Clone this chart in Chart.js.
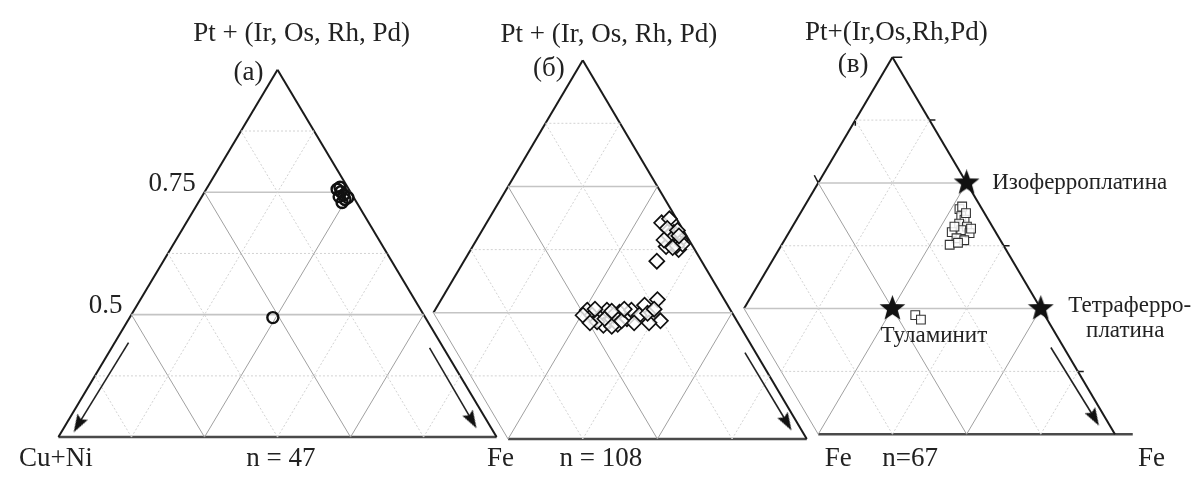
<!DOCTYPE html>
<html>
<head>
<meta charset="utf-8">
<title>Ternary diagrams Pt-Fe-(Cu+Ni)</title>
<script src="https://cdn.jsdelivr.net/npm/chart.js@4.4.0/dist/chart.umd.min.js"></script>
<style>
    html, body { margin: 0; padding: 0; background: #fff; }
    #wrap { width: 1198px; height: 479px; }
</style>
</head>
<body>
<div id="wrap"><canvas id="chart" width="1198" height="479"></canvas></div>
<script>
// ── Data (compositions, fractions) ───────────────────────────────
// Pt = Pt+(Ir,Os,Rh,Pd), Fe = Fe; third apex (Cu+Ni) is the remainder.
// Triangles are truncated: the base corresponds to Pt = 0.25.
var aPt = [0.756, 0.751, 0.745, 0.741, 0.735, 0.729, 0.739, 0.760, 0.494];
var aFe = [0.224, 0.233, 0.241, 0.235, 0.248, 0.246, 0.251, 0.227, 0.245];

var bPt = [0.678, 0.686, 0.659, 0.644, 0.638, 0.625, 0.631, 0.602, 0.648, 0.652, 0.633, 0.636,
           0.667, 0.663, 0.629, 0.644, 0.652,
           0.505, 0.495, 0.492, 0.505, 0.484, 0.501, 0.488, 0.477, 0.505, 0.495, 0.515, 0.526,
           0.484, 0.480, 0.475, 0.482, 0.495, 0.480,
           0.495, 0.507, 0.488, 0.503, 0.484, 0.507, 0.480, 0.473, 0.499, 0.507];
var bFe = [0.293, 0.302, 0.323, 0.342, 0.330, 0.348, 0.324, 0.323, 0.330, 0.318, 0.341, 0.349,
           0.308, 0.327, 0.336, 0.314, 0.335,
           0.255, 0.268, 0.283, 0.288, 0.303, 0.311, 0.330, 0.320, 0.329, 0.347, 0.346, 0.362,
           0.388, 0.371, 0.297, 0.283, 0.304, 0.346,
           0.253, 0.267, 0.293, 0.297, 0.323, 0.316, 0.272, 0.312, 0.359, 0.366];

var cPt = [0.698, 0.684, 0.677, 0.669, 0.663, 0.656, 0.650, 0.652, 0.640, 0.627, 0.636,
           0.703, 0.663, 0.690, 0.631, 0.659, 0.487, 0.478];
var cFe = [0.264, 0.274, 0.283, 0.278, 0.294, 0.288, 0.305, 0.274, 0.288, 0.283, 0.303,
           0.266, 0.273, 0.279, 0.295, 0.303, 0.295, 0.309];

var mineralNames = ['Изоферроплатина', 'Тетраферро-\nплатина', 'Туламинит'];
var mineralPt = [0.75, 0.5, 0.5];
var mineralFe = [0.25, 0.5, 0.25];

var tickValues = [0.75, 0.5];
var tickLabels = ['0.75', '0.5'];

// ── Layout (chart units = canvas px) ─────────────────────────────
var panels = [
    { left: 50,  bottom: 445, w: 445, h: 382, cut: false },
    { left: 355, bottom: 447, w: 455, h: 394, cut: true },
    { left: 671, bottom: 442, w: 452, h: 392, cut: true }
];
var PT_BASE = 0.25;
var CUT_B = 2 / 3;   // lower-left corner hidden behind the previous panel

// arrows along the edges: [panel, startXc, startH, endXc, endH, rotation]
var arrows = [
    [0, 0.160, 0.257, 0.045, 0.034, 210],
    [0, 0.847, 0.243, 0.944, 0.045, 150],
    [1, 0.862, 0.228, 0.956, 0.043, 150],
    [2, 0.856, 0.230, 0.954, 0.043, 150]
];

var FONT = "'Liberation Serif', 'DejaVu Serif', serif";
var texts = [
    { t: 'Pt + (Ir, Os, Rh, Pd)', x: 297, y: 26, align: 'center', size: 27 },
    { t: '(а)', x: 243, y: 66, align: 'center', size: 27 },
    { t: 'Pt + (Ir, Os, Rh, Pd)', x: 609, y: 27, align: 'center', size: 27 },
    { t: '(б)', x: 548, y: 62, align: 'center', size: 27 },
    { t: 'Pt+(Ir,Os,Rh,Pd)', x: 901, y: 25, align: 'center', size: 27 },
    { t: '(в)', x: 857, y: 58, align: 'center', size: 27 },
    { t: 'Cu+Ni', x: 10, y: 468, align: 'left', size: 27 },
    { t: 'n = 47', x: 276, y: 468, align: 'center', size: 27 },
    { t: 'Fe', x: 499, y: 468, align: 'center', size: 27 },
    { t: 'n = 108', x: 601, y: 468, align: 'center', size: 27 },
    { t: 'Fe', x: 842, y: 468, align: 'center', size: 27 },
    { t: 'n=67', x: 915, y: 468, align: 'center', size: 27 },
    { t: 'Fe', x: 1160, y: 468, align: 'center', size: 27 }
];
// offsets of mineral labels from their star
var mineralLabelPos = [
    { dx: 26, dy: 0, align: 'left' },
    { dx: 28, dy: -3, align: 'left' },
    { dx: -12, dy: 28, align: 'left' }
];

// ── Geometry helpers ─────────────────────────────────────────────
function compToBary(pt, fe) {
    var a = (pt - PT_BASE) / (1 - PT_BASE);
    var c = fe / (1 - PT_BASE);
    return { a: a, b: 1 - a - c, c: c };
}
function baryToXY(p, q) {
    return { x: p.left + (q.c + q.a / 2) * p.w, y: p.bottom - q.a * p.h };
}
function cartToXY(p, xc, h) {
    return { x: p.left + xc * p.w, y: p.bottom - h * p.h };
}
function lerpB(p, q, t) {
    return { a: p.a + (q.a - p.a) * t, b: p.b + (q.b - p.b) * t, c: p.c + (q.c - p.c) * t };
}
function clipSeg(p, q, maxB) {
    var e = 1e-9;
    if (p.b > maxB + e && q.b > maxB + e) return null;
    if (p.b > maxB + e) p = lerpB(p, q, (p.b - maxB) / (p.b - q.b));
    if (q.b > maxB + e) q = lerpB(q, p, (q.b - maxB) / (q.b - p.b));
    return [p, q];
}

function lineSet(pts, color, width, dash) {
    return {
        data: pts, showLine: true, borderColor: color, borderWidth: width,
        borderDash: dash || [], pointRadius: 0, fill: false, order: 10
    };
}

// ── Marker images ────────────────────────────────────────────────
function starImage(size) {
    var cv = document.createElement('canvas');
    cv.width = size; cv.height = size;
    var g = cv.getContext('2d');
    var R = size / 2, r = R * 0.42;
    g.beginPath();
    for (var i = 0; i < 10; i++) {
        var ang = -Math.PI / 2 + i * Math.PI / 5;
        var rr = i % 2 ? r : R;
        g.lineTo(R + rr * Math.cos(ang), R + rr * Math.sin(ang));
    }
    g.closePath();
    g.fillStyle = '#111';
    g.fill();
    return cv;
}
function arrowHead() {
    var cv = document.createElement('canvas');
    cv.width = 12; cv.height = 18;
    var g = cv.getContext('2d');
    g.beginPath();
    g.moveTo(6, 0); g.lineTo(12, 18); g.lineTo(6, 15); g.lineTo(0, 18);
    g.closePath();
    g.fillStyle = '#111';
    g.fill();
    return cv;
}
var STAR = starImage(27);
var HEAD = arrowHead();

// ── Build datasets ───────────────────────────────────────────────
var datasets = [];

panels.forEach(function (p, pi) {
    var segs = [];
    for (var k = 1; k <= 5; k++) {
        var t = k / 6, solid = k % 2 === 0;
        segs.push({ s: [{ a: t, b: 1 - t, c: 0 }, { a: t, b: 0, c: 1 - t }], kind: solid ? 'hsolid' : 'dash' });
        segs.push({ s: [{ a: 0, b: 1 - t, c: t }, { a: 1 - t, b: 0, c: t }], kind: solid ? 'solid' : 'dash' });
        segs.push({ s: [{ a: 0, b: t, c: 1 - t }, { a: 1 - t, b: t, c: 0 }], kind: solid ? 'solid' : 'dash' });
    }
    var ext = pi === 2 ? 0.04 : 0;
    segs.push({ s: [{ a: 0, b: 1, c: 0 }, { a: 1, b: 0, c: 0 }], kind: 'edge' });
    segs.push({ s: [{ a: 0, b: 0, c: 1 }, { a: 1, b: 0, c: 0 }], kind: 'edge' });
    segs.push({ s: [{ a: 0, b: 1, c: 0 }, { a: 0, b: -ext, c: 1 + ext }], kind: 'base' });

    segs.forEach(function (sg) {
        var s = p.cut ? clipSeg(sg.s[0], sg.s[1], CUT_B) : sg.s;
        if (!s) return;
        var pts = [baryToXY(p, s[0]), baryToXY(p, s[1])];
        if (sg.kind === 'edge') datasets.push(lineSet(pts, '#1a1a1a', 2));
        else if (sg.kind === 'base') datasets.push(lineSet(pts, '#4a4a4a', 2.5));
        else if (sg.kind === 'hsolid') datasets.push(lineSet(pts, '#c4c4c4', 1.6));
        else if (sg.kind === 'solid') datasets.push(lineSet(pts, '#a0a0a0', 1));
        else datasets.push(lineSet(pts, '#d2d2d2', 1, [2, 2]));
    });
});

// small ticks on panel (в)
var tp = panels[2];
var rightTicks = [1, 5 / 6, 2 / 3, 1 / 2, 1 / 3, 1 / 6];
rightTicks.forEach(function (lv) {
    var q = baryToXY(tp, { a: lv, b: 0, c: 1 - lv });
    var len = lv === 1 ? 10 : 6;
    datasets.push(lineSet([q, { x: q.x + len, y: q.y }], '#1a1a1a', 1.5));
});
var leftTicks = [[5 / 6, 0, 6], [2 / 3, -4, -8]];
leftTicks.forEach(function (tk) {
    var q = baryToXY(tp, { a: tk[0], b: 1 - tk[0], c: 0 });
    datasets.push(lineSet([q, { x: q.x + tk[1], y: q.y + tk[2] }], '#1a1a1a', 1.5));
});

// arrows
arrows.forEach(function (ar) {
    var p = panels[ar[0]];
    var s = cartToXY(p, ar[1], ar[2]), e = cartToXY(p, ar[3], ar[4]);
    datasets.push({
        data: [s, e], showLine: true, borderColor: '#222', borderWidth: 1.6,
        pointRadius: [0, 5], pointStyle: ['circle', HEAD], rotation: ar[5], order: 5
    });
});

function pointsFor(p, pts, fes) {
    return pts.map(function (v, i) { return baryToXY(p, compToBary(v, fes[i])); });
}

datasets.push({
    label: 'а', data: pointsFor(panels[0], aPt, aFe),
    pointStyle: 'circle', pointRadius: 5.5, pointBorderWidth: 2.4,
    pointBorderColor: '#111', pointBackgroundColor: 'rgba(255,255,255,0)', order: 2
});
datasets.push({
    label: 'б', data: pointsFor(panels[1], bPt, bFe),
    pointStyle: 'rectRot', pointRadius: 7.5, pointBorderWidth: 1.7,
    pointBorderColor: '#111', pointBackgroundColor: 'rgba(255,255,255,0.8)', order: 2
});
datasets.push({
    label: 'в', data: pointsFor(panels[2], cPt, cFe),
    pointStyle: 'rect', pointRadius: 6.2, pointBorderWidth: 1.1,
    pointBorderColor: '#333', pointBackgroundColor: 'rgba(255,255,255,0.85)', order: 2
});
datasets.push({
    label: 'minerals', data: pointsFor(panels[2], mineralPt, mineralFe),
    pointStyle: STAR, pointRadius: 6, order: 1
});

// ── Text plugin ──────────────────────────────────────────────────
var textPlugin = {
    id: 'figureText',
    afterDatasetsDraw: function (chart) {
        var ctx = chart.ctx, sx = chart.scales.x, sy = chart.scales.y;
        ctx.save();
        ctx.fillStyle = '#222';
        ctx.textBaseline = 'middle';
        function put(t, x, y, align, size) {
            ctx.font = size + 'px ' + FONT;
            ctx.textAlign = align;
            t.split('\n').forEach(function (line, i) {
                var lx = x + (i > 0 ? 18 : 0);
                ctx.fillText(line, sx.getPixelForValue(lx), sy.getPixelForValue(y + i * 26));
            });
        }
        texts.forEach(function (l) { put(l.t, l.x, l.y, l.align, l.size); });

        // tick labels on the left edge of panel (а)
        tickValues.forEach(function (v, i) {
            var q = baryToXY(panels[0], compToBary(v, 0));
            put(tickLabels[i], q.x - 9, q.y - 9, 'right', 27);
        });

        // mineral labels
        mineralNames.forEach(function (n, i) {
            var q = baryToXY(panels[2], compToBary(mineralPt[i], mineralFe[i]));
            var o = mineralLabelPos[i];
            put(n, q.x + o.dx, q.y + o.dy, o.align, 23);
        });
        ctx.restore();
    }
};

new Chart(document.getElementById('chart'), {
    type: 'scatter',
    data: { datasets: datasets },
    options: {
        responsive: false,
        animation: false,
        events: [],
        layout: { padding: 0 },
        plugins: { legend: { display: false }, tooltip: { enabled: false } },
        scales: {
            x: { type: 'linear', min: 0, max: 1198, display: false },
            y: { type: 'linear', min: 0, max: 479, reverse: true, display: false }
        }
    },
    plugins: [textPlugin]
});
</script>
</body>
</html>
